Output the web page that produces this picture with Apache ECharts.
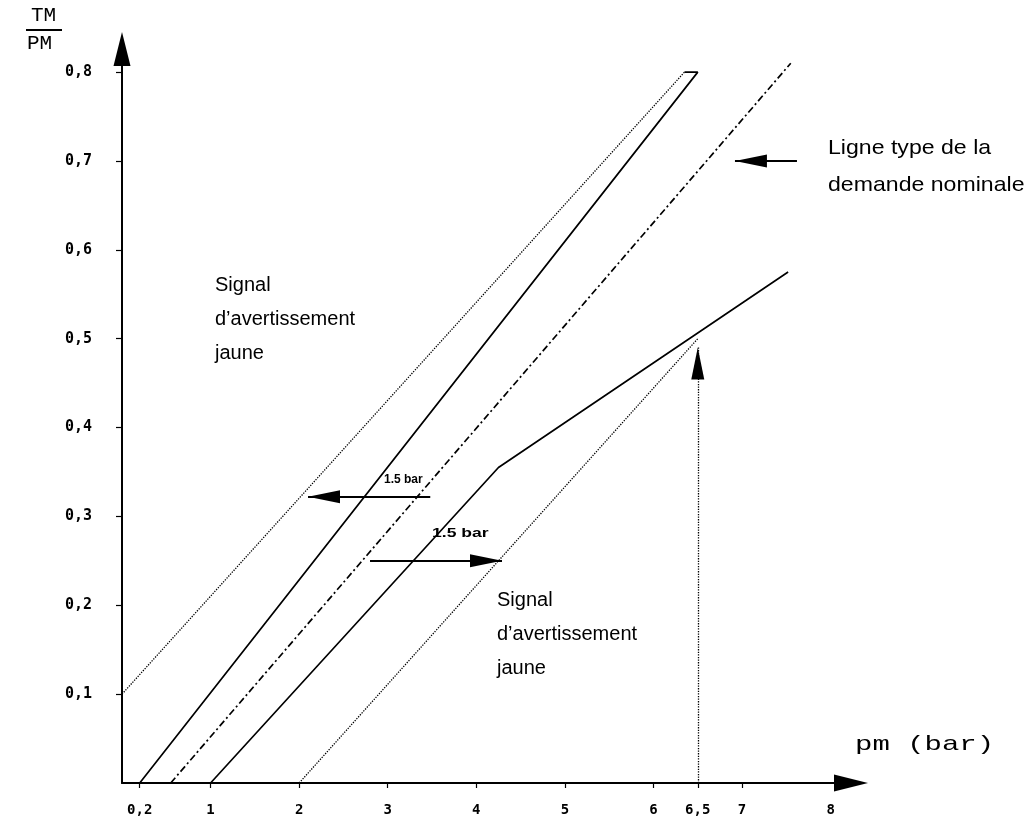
<!DOCTYPE html>
<html><head><meta charset="utf-8">
<script src="https://cdn.jsdelivr.net/npm/echarts@6/dist/echarts.min.js"></script>
<style>html,body{margin:0;padding:0;background:#fff}#c{width:1034px;height:825px}</style>
</head><body><div id="c"></div>
<script>
// Tick positions and labels
const xTicks = [0.2, 1, 2, 3, 4, 5, 6, 6.5, 7];
const xLabels = [0.2, 1, 2, 3, 4, 5, 6, 6.5, 7, 8];
const yTicks = [0.1, 0.2, 0.3, 0.4, 0.5, 0.6, 0.7, 0.8];
// Lines [pm (bar), TM/PM]
const upperDotted = [[0, 0.1], [6.35, 0.8]];
const upperSolid = [[0.2, 0], [6.5, 0.8], [6.35, 0.8]];
const nominalLine = [[0.55, 0], [7.55, 0.81]];
const lowerSolid = [[1, 0], [4.25, 0.355], [7.52, 0.575]];
const lowerDotted = [[2, 0], [6.5, 0.5]];
// Arrows [from, to]
const arrowLeft = [[3.48, 0.322], [2.1, 0.322]];
const arrowRight = [[2.8, 0.25], [4.29, 0.25]];
const arrowNominal = [[7.62, 0.7], [6.92, 0.7]];
const arrowVertical = [[6.5, 0], [6.5, 0.49]];

const fmt = v => String(v).replace('.', ',');
const chart = echarts.init(document.getElementById('c'));
const black = '#000';
function lineSeries(data, lineStyle) {
  return { type: 'line', data: data, showSymbol: false, silent: true, animation: false,
    lineStyle: Object.assign({ color: black, width: 1.6 }, lineStyle) };
}
function arrow(pair, lineType) {
  return { type: 'line', data: [], silent: true, animation: false,
    markLine: { silent: true, animation: false, symbol: ['none', 'triangle'], symbolSize: [13, 32],
      symbolOffset: [0, [0, 16]],
      label: { show: false }, emphasis: { disabled: true },
      lineStyle: { color: black, width: lineType === 'dotted' ? 1.3 : 2, type: lineType || 'solid' },
      data: [[{ coord: pair[0] }, { coord: pair[1] }]] } };
}
chart.setOption({
  backgroundColor: '#fff',
  animation: false,
  grid: { left: 122, right: 183, top: 49, bottom: 42 },
  xAxis: { type: 'value', min: 0, max: 8.23,
    axisLine: { show: true, lineStyle: { color: black, width: 2 }, symbol: ['none', 'triangle'], symbolSize: [17, 34] },
    axisTick: { show: true, customValues: xTicks, length: 5, lineStyle: { color: black, width: 1.2 } },
    axisLabel: { customValues: xLabels, formatter: fmt, margin: 20, color: black,
      fontFamily: 'DejaVu Sans Mono', fontWeight: 'bold', fontSize: 14 },
    splitLine: { show: false } },
  yAxis: { type: 'value', min: 0, max: 0.826,
    axisLine: { show: true, lineStyle: { color: black, width: 2 }, symbol: ['none', 'triangle'], symbolSize: [17, 34] },
    axisTick: { show: true, customValues: yTicks, length: 6, lineStyle: { color: black, width: 1.2 } },
    axisLabel: { customValues: yTicks, formatter: fmt, margin: 30, color: black, verticalAlign: 'middle',
      padding: [0, 0, 8, 0],
      fontFamily: 'DejaVu Sans Mono', fontWeight: 'bold', fontSize: 15 },
    splitLine: { show: false } },
  series: [
    lineSeries(upperDotted, { type: 'dotted', width: 1.3 }),
    lineSeries(upperSolid, { type: 'solid', width: 1.7 }),
    lineSeries(nominalLine, { type: [7, 3, 2, 3], width: 1.7 }),
    lineSeries(lowerSolid, { type: 'solid', width: 1.7 }),
    lineSeries(lowerDotted, { type: 'dotted', width: 1.3 }),
    arrow(arrowLeft), arrow(arrowRight), arrow(arrowNominal), arrow(arrowVertical, 'dotted')
  ],
  graphic: [
    { type: 'text', x: 31, y: 5, style: { text: 'TM', font: '21px "Liberation Mono"', fill: black } },
    { type: 'line', shape: { x1: 26, y1: 30, x2: 62, y2: 30 }, style: { stroke: black, lineWidth: 2 } },
    { type: 'text', x: 27, y: 33, style: { text: 'PM', font: '21px "Liberation Mono"', fill: black } },
    { type: 'text', x: 855, y: 734, scaleX: 1.38, style: { text: 'pm (bar)', font: '21px "Liberation Mono"', fill: black } },
    { type: 'text', left: 215, top: 268, style: { text: 'Signal\nd’avertissement\njaune', font: '20px "Liberation Sans"', lineHeight: 34, fill: black } },
    { type: 'text', left: 497, top: 583, style: { text: 'Signal\nd’avertissement\njaune', font: '20px "Liberation Sans"', lineHeight: 34, fill: black } },
    { type: 'text', x: 828, y: 130, scaleX: 1.1, style: { text: 'Ligne type de la\ndemande nominale', font: '21px "Liberation Sans"', lineHeight: 37, fill: black } },
    { type: 'text', left: 384, top: 474, style: { text: '1.5 bar', font: 'bold 12px "Liberation Sans"', fill: black } },
    { type: 'text', x: 432, y: 527, scaleX: 1.35, style: { text: '1.5 bar', font: 'bold 13px "Liberation Sans"', fill: black } }
  ]
});
</script></body></html>
